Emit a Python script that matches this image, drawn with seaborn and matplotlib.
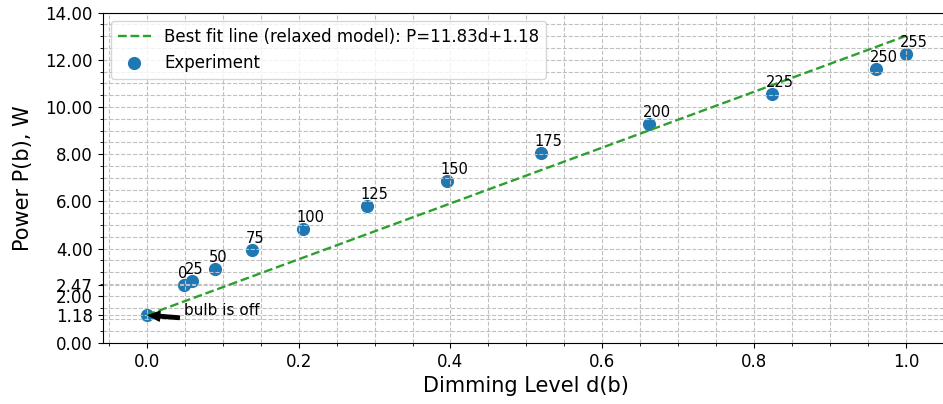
import numpy as np
import pandas as pd
import seaborn as sns
import matplotlib
matplotlib.use('Agg')
import matplotlib.pyplot as plt
from matplotlib.ticker import AutoMinorLocator, MultipleLocator, FormatStrFormatter

# measured points: dimming level d(b) vs power P(b)
dim_level = [0.0, 0.049, 0.059, 0.090, 0.139, 0.206, 0.290, 0.395, 0.519, 0.662, 0.823, 0.960, 1.0]
power = [1.18, 2.47, 2.62, 3.15, 3.93, 4.83, 5.82, 6.85, 8.03, 9.29, 10.56, 11.60, 12.26]
b_labels = ['', '0', '25', '50', '75', '100', '125', '150', '175', '200', '225', '250', '255']

# relaxed model fit endpoints, P = 11.83d + 1.18
fit_d = [0.0, 1.0]
fit_p = [1.18, 13.01]

y_ticks = [0.0, 1.18, 2.0, 2.47, 4.0, 6.0, 8.0, 10.0, 12.0, 14.0]

df = pd.DataFrame({'d': dim_level, 'P': power})

fig = plt.figure(figsize=(9.43, 4.04), dpi=100)
ax = fig.add_axes([102.7/943, 61/404, 847.4/943, 330.5/404])

ax.plot(fit_d, fit_p, '--', color='#2ca02c', lw=1.7,
        label='Best fit line (relaxed model): P=11.83d+1.18')
sns.scatterplot(data=df, x='d', y='P', ax=ax, s=90, color='#1f77b4',
                linewidth=0, label='Experiment')

for d, p, lab in zip(dim_level, power, b_labels):
    if lab:
        ax.annotate(lab, (d, p), xytext=(-4.5, 5), textcoords='offset points', fontsize=10.5)

ax.annotate('bulb is off', xy=(dim_level[0], power[0]), xytext=(0.049, 1.18), fontsize=11,
            arrowprops=dict(facecolor='black', edgecolor='black', width=2.5,
                            headwidth=7, headlength=8, shrink=0.05))

ax.set_xlim(-0.058, 1.058)
ax.set_ylim(0, 14)
ax.set_yticks(y_ticks)
ax.yaxis.set_major_formatter(FormatStrFormatter('%.2f'))
ax.yaxis.set_minor_locator(MultipleLocator(0.5))
ax.xaxis.set_minor_locator(AutoMinorLocator(4))
ax.grid(which='both', linestyle='--', color='#c0c0c0')
ax.tick_params(labelsize=12)

ax.set_xlabel('Dimming Level d(b)', fontsize=15)
ax.set_ylabel('Power P(b), W', fontsize=15, labelpad=9)
ax.legend(loc='upper left', fontsize=12)

fig.savefig('out.png', dpi=100)
